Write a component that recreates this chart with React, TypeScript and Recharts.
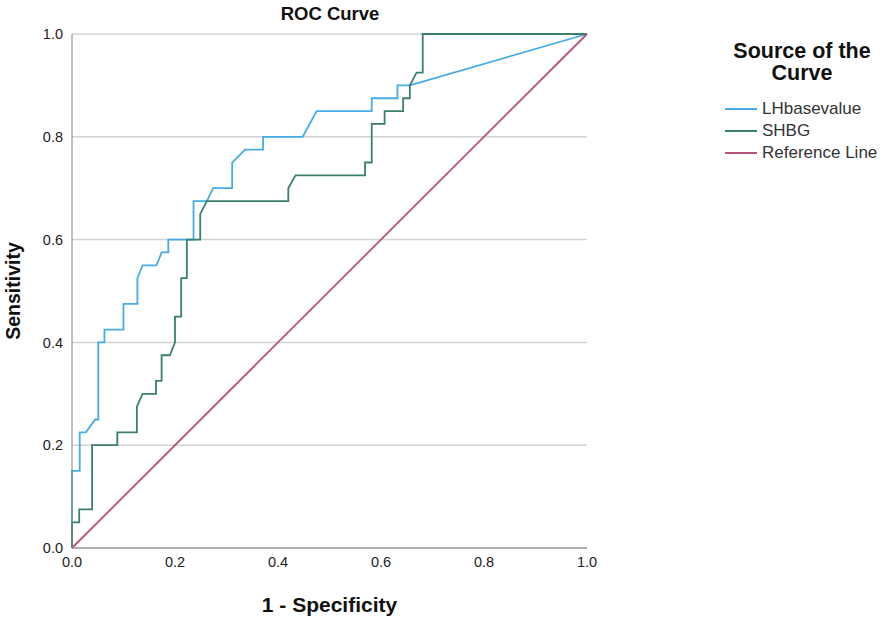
import React from 'react'
import { LineChart, Line, XAxis, YAxis, CartesianGrid, Label } from 'recharts'

// LHbasevalue ROC points (1 - specificity, sensitivity)
const lhFpr = [0, 0, 0.015, 0.015, 0.027, 0.045, 0.051, 0.051, 0.063, 0.063, 0.1, 0.1, 0.127, 0.127, 0.137, 0.164, 0.174, 0.187, 0.187, 0.236, 0.236, 0.262, 0.274, 0.311, 0.311, 0.336, 0.371, 0.371, 0.448, 0.475, 0.582, 0.582, 0.632, 0.632, 0.656, 1]
const lhTpr = [0, 0.15, 0.15, 0.225, 0.225, 0.25, 0.25, 0.4, 0.4, 0.425, 0.425, 0.475, 0.475, 0.525, 0.55, 0.55, 0.575, 0.575, 0.6, 0.6, 0.675, 0.675, 0.7, 0.7, 0.75, 0.775, 0.775, 0.8, 0.8, 0.85, 0.85, 0.875, 0.875, 0.9, 0.9, 1]

// SHBG ROC points
const shbgFpr = [0, 0, 0.014, 0.014, 0.039, 0.039, 0.088, 0.088, 0.126, 0.126, 0.137, 0.163, 0.163, 0.174, 0.174, 0.19, 0.2, 0.2, 0.212, 0.212, 0.223, 0.223, 0.249, 0.249, 0.262, 0.42, 0.42, 0.434, 0.569, 0.569, 0.582, 0.582, 0.607, 0.607, 0.643, 0.643, 0.656, 0.656, 0.669, 0.681, 0.681, 1]
const shbgTpr = [0, 0.05, 0.05, 0.075, 0.075, 0.2, 0.2, 0.225, 0.225, 0.275, 0.3, 0.3, 0.325, 0.325, 0.375, 0.375, 0.4, 0.45, 0.45, 0.525, 0.525, 0.6, 0.6, 0.65, 0.675, 0.675, 0.7, 0.725, 0.725, 0.75, 0.75, 0.825, 0.825, 0.85, 0.85, 0.875, 0.875, 0.9, 0.925, 0.925, 1, 1]

const refFpr = [0, 1]
const refTpr = [0, 1]

const ticks = [0, 0.2, 0.4, 0.6, 0.8, 1]

const seriesNames = ['LHbasevalue', 'SHBG', 'Reference Line']
const seriesColors = ['#45ace6', '#3a7f6f', '#b5527c']

const toPoints = (xs: number[], ys: number[]) => xs.map((x, i) => ({ x, y: ys[i] }))

const font = '"Liberation Sans", Arial, sans-serif'

export default function App() {
  const series = [
    toPoints(lhFpr, lhTpr),
    toPoints(shbgFpr, shbgTpr),
    toPoints(refFpr, refTpr),
  ]

  return (
    <div style={{ position: 'absolute', left: 0, top: 0, width: 886, height: 624, background: '#fff', fontFamily: font }}>
      <LineChart width={886} height={624} margin={{ top: 34, right: 299, left: 0, bottom: 0 }}>
        <CartesianGrid vertical={false} stroke="#d4d4d4" strokeWidth={1.5} />
        <XAxis
          type="number"
          dataKey="x"
          domain={[0, 1]}
          ticks={ticks}
          tickFormatter={(v) => v.toFixed(1)}
          tickLine={false}
          tickSize={0}
          tickMargin={9}
          height={76}
          stroke="#808080"
          tick={{ fill: '#222', fontSize: 14.5, fontFamily: font }}
        >
          <Label
            content={({ viewBox }: any) => (
              <text x={viewBox.x + viewBox.width / 2} y={viewBox.y + 64} textAnchor="middle"
                fontSize={21} fontWeight="bold" fill="#111" fontFamily={font}>1 - Specificity</text>
            )}
          />
        </XAxis>
        <YAxis
          type="number"
          dataKey="y"
          domain={[0, 1]}
          ticks={ticks}
          tickFormatter={(v) => v.toFixed(1)}
          tickLine={false}
          tickSize={0}
          tickMargin={9}
          width={72}
          stroke="#808080"
          tick={{ fill: '#222', fontSize: 14.5, fontFamily: font }}
        >
          <Label
            content={({ viewBox }: any) => {
              const cx = 20
              const cy = viewBox.y + viewBox.height / 2
              return (
                <text x={cx} y={cy} transform={`rotate(-90 ${cx} ${cy})`} textAnchor="middle"
                  fontSize={19.5} fontWeight="bold" fill="#111" fontFamily={font}>Sensitivity</text>
              )
            }}
          />
        </YAxis>
        {series.map((pts, i) => (
          <Line
            key={seriesNames[i]}
            data={pts}
            dataKey="y"
            name={seriesNames[i]}
            type="linear"
            stroke={seriesColors[i]}
            strokeWidth={1.8}
            dot={false}
            activeDot={false}
            isAnimationActive={false}
          />
        ))}
      </LineChart>

      <div style={{ position: 'absolute', left: 230, top: 3, width: 200, textAlign: 'center', fontSize: 18.5, fontWeight: 'bold', color: '#111' }}>
        ROC Curve
      </div>

      <div style={{ position: 'absolute', left: 711, top: 40, width: 182 }}>
        <div style={{ textAlign: 'center', fontSize: 21.5, fontWeight: 'bold', lineHeight: '22px', color: '#111' }}>
          Source of the<br />Curve
        </div>
        <div style={{ marginTop: 14, marginLeft: 14 }}>
          {seriesNames.map((n, i) => (
            <div key={n} style={{ display: 'flex', alignItems: 'center', height: 22, fontSize: 17, color: '#333' }}>
              <span style={{ display: 'inline-block', width: 32, height: 2, background: seriesColors[i], marginRight: 5 }} />
              {n}
            </div>
          ))}
        </div>
      </div>
    </div>
  )
}
